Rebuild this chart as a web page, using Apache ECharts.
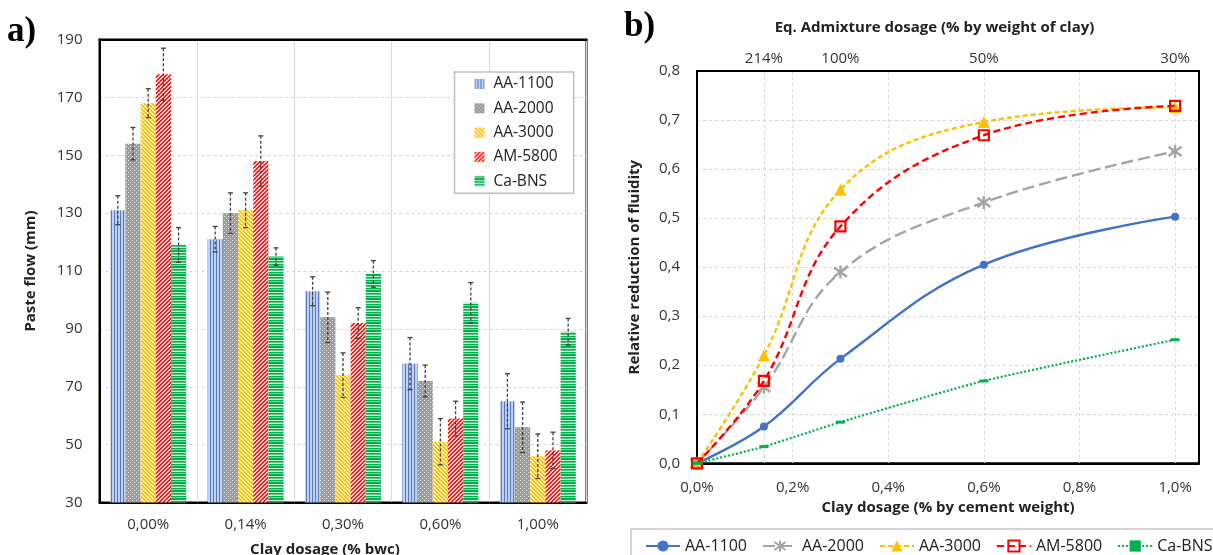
<!DOCTYPE html>
<html><head><meta charset="utf-8">
<script src="https://cdn.jsdelivr.net/npm/echarts@6/dist/echarts.min.js"></script>
<style>html,body{margin:0;padding:0;background:#fff}#c{width:1213px;height:555px}</style>
</head><body><div id="c"></div>
<script>
// ---------- Panel a data ----------
const categories = ['0,00%', '0,14%', '0,30%', '0,60%', '1,00%'];
const seriesNames = ['AA-1100', 'AA-2000', 'AA-3000', 'AM-5800', 'Ca-BNS'];
const flowAA1100 = [131, 121, 103, 78, 65];
const flowAA2000 = [154, 130, 94, 72, 56];
const flowAA3000 = [168, 131, 74, 51, 46];
const flowAM5800 = [178, 148, 92, 59, 48];
const flowCaBNS  = [119, 115, 109, 99, 89];
const errAA1100 = [5, 4.4, 5, 9, 9.5];
const errAA2000 = [5.6, 7, 8.7, 5.5, 8.7];
const errAA3000 = [5, 6, 7.7, 8, 7.7];
const errAM5800 = [9, 8.7, 5.3, 6, 6.3];
const errCaBNS  = [6, 3, 4.6, 7, 4.6];
const flowTicks = [30, 50, 70, 90, 110, 130, 150, 170, 190];
const flowGridTicks = [50, 70, 90, 110, 130, 150, 170];

// ---------- Panel b data ----------
const clayDosage = [0, 0.14, 0.3, 0.6, 1.0];
const redAA1100 = [0, 0.075, 0.213, 0.405, 0.503];
const redAA2000 = [0, 0.155, 0.390, 0.532, 0.636];
const redAA3000 = [0, 0.220, 0.558, 0.696, 0.726];
const redAM5800 = [0, 0.168, 0.483, 0.669, 0.729];
const redCaBNS  = [0, 0.034, 0.084, 0.168, 0.252];
const clayTicks = [0, 0.2, 0.4, 0.6, 0.8, 1.0];
const admixTickValues = [0.14, 0.3, 0.6, 1.0];
const admixTickLabels = ['214%', '100%', '50%', '30%'];
const admixGridValues = [0.14, 0.6, 1.0];

const FONT = '"Open Sans", sans-serif';
const flows = [flowAA1100, flowAA2000, flowAA3000, flowAM5800, flowCaBNS];
const errs = [errAA1100, errAA2000, errAA3000, errAM5800, errCaBNS];
const reds = [redAA1100, redAA2000, redAA3000, redAM5800, redCaBNS];
const CAT_GAP = 0.22;

function pat(w, h, draw) {
  const c = document.createElement('canvas');
  c.width = w; c.height = h;
  const g = c.getContext('2d');
  draw(g, w, h);
  return { image: c, repeat: 'repeat' };
}
const patterns = [
  pat(3, 1, g => { g.fillStyle = '#c2d1ee'; g.fillRect(0, 0, 3, 1); g.fillStyle = '#4f7bc9'; g.fillRect(0, 0, 1, 1); }),
  pat(4, 4, g => { g.fillStyle = '#9c9c9c'; g.fillRect(0, 0, 4, 4); g.fillStyle = '#e2e2e2'; g.fillRect(0, 0, 1, 1); g.fillRect(2, 2, 1, 1); }),
  pat(4, 4, g => { for (let x = 0; x < 4; x++) for (let y = 0; y < 4; y++) { g.fillStyle = (((x - y) % 4 + 4) % 4) < 2 ? '#ffc000' : '#fff0c0'; g.fillRect(x, y, 1, 1); } }),
  pat(4, 4, g => { for (let x = 0; x < 4; x++) for (let y = 0; y < 4; y++) { g.fillStyle = ((x + y) % 4) < 2 ? '#ff1a1a' : '#ffd6d6'; g.fillRect(x, y, 1, 1); } }),
  pat(1, 8, g => { const rows = ['#00b050', '#7fd3a3', '#00b050', '#00b050', '#c6ecd5', '#00b050', '#5cc68a', '#c6ecd5']; rows.forEach((c, i) => { g.fillStyle = c; g.fillRect(0, i, 1, 1); }); })
];

const lineColors = ['#4472c4', '#a5a5a5', '#ffc000', '#ff0000', '#00b050'];
const lineTypes = ['solid', [12, 5], [5, 3], [7, 4], [2, 2]];
const symbols = ['circle', 'path://M-5,-5L5,5M-5,5L5,-5M0,-7L0,7', 'triangle', 'rect', 'rect'];
const symbolSizes = [8, 13, 12, 10, [9, 3]];

const series = [];
seriesNames.forEach((n, k) => {
  series.push({
    type: 'bar', name: n, xAxisIndex: 0, yAxisIndex: 0,
    data: flows[k], barGap: '0%', barCategoryGap: (CAT_GAP * 100) + '%',
    itemStyle: { color: patterns[k] }, silent: true
  });
});
const errData = [];
flows.forEach((arr, k) => arr.forEach((v, j) => errData.push([j, v - errs[k][j], v + errs[k][j], k])));
series.push({
  type: 'custom', xAxisIndex: 0, yAxisIndex: 0, silent: true, z: 5,
  data: errData, encode: { x: 0, y: [1, 2] },
  renderItem(params, api) {
    const j = api.value(0), lo = api.value(1), hi = api.value(2), k = api.value(3);
    const band = api.size([1, 0])[0];
    const area = band * (1 - CAT_GAP), bw = area / 5;
    const top = api.coord([j, hi]), bot = api.coord([j, lo]);
    const x = top[0] - area / 2 + (k + 0.5) * bw;
    const solid = { stroke: '#404040', lineWidth: 1.3 };
    return { type: 'group', children: [
      { type: 'line', shape: { x1: x, y1: top[1], x2: x, y2: bot[1] }, style: { stroke: '#404040', lineWidth: 1.3, lineDash: [3, 2] } },
      { type: 'line', shape: { x1: x - 2.5, y1: top[1], x2: x + 2.5, y2: top[1] }, style: solid },
      { type: 'line', shape: { x1: x - 2.5, y1: bot[1], x2: x + 2.5, y2: bot[1] }, style: solid }
    ] };
  }
});
seriesNames.forEach((n, k) => {
  const isSq = k === 3, isAst = k === 1;
  series.push({
    type: 'line', name: n + ' (b)', xAxisIndex: 2, yAxisIndex: 1,
    data: clayDosage.map((x, i) => [x, reds[k][i]]),
    smooth: k === 4 ? 0.2 : 0.4, symbol: symbols[k], symbolSize: symbolSizes[k], showAllSymbol: true,
    lineStyle: { color: lineColors[k], width: k === 4 ? 2.2 : 2.4, type: lineTypes[k] },
    itemStyle: isSq ? { color: 'rgba(255,255,255,0)', borderColor: '#ff0000', borderWidth: 2.2 }
      : isAst ? { color: '#a5a5a5', borderColor: '#a5a5a5', borderWidth: 2.4 }
      : { color: lineColors[k] },
    silent: true, z: 3 + k
  });
});

const axisLbl = { fontFamily: FONT, fontSize: 15, color: '#333' };
const nameStyle = { fontFamily: FONT, fontSize: 15, fontWeight: 'bold', color: '#222' };
const dashed = { show: true, lineStyle: { color: '#d6d6d6', type: [3, 3], width: 1 } };
const fmt1 = v => v.toFixed(1).replace('.', ',');
const blackLine = { show: true, lineStyle: { color: '#000', width: 2 } };

const option = {
  animation: false,
  backgroundColor: '#fff',
  graphic: [
    { type: 'text', left: 7, top: 14, style: { text: 'a)', font: 'bold 35px "Liberation Serif"', fill: '#000' } },
    { type: 'text', left: 624, top: 9, style: { text: 'b)', font: 'bold 35px "Liberation Serif"', fill: '#000' } }
  ],
  grid: [
    { left: 99.5, top: 39.5, width: 487, height: 463, outerBoundsMode: 'none', containLabel: false,
      show: true, borderColor: '#000', borderWidth: 2, backgroundColor: 'transparent' },
    { left: 697, top: 71, width: 502, height: 392.3, outerBoundsMode: 'none', containLabel: false,
      show: true, borderColor: '#000', borderWidth: 2, backgroundColor: 'transparent' }
  ],
  legend: [
    {
      data: seriesNames, orient: 'vertical', left: 454.5, top: 72, selectedMode: false,
      icon: 'rect', itemWidth: 10, itemHeight: 10, itemGap: 8.3,
      padding: [4, 16, 4, 20], borderColor: '#bfbfbf', borderWidth: 1.5, backgroundColor: '#fff',
      textStyle: { fontFamily: FONT, fontSize: 15.5, color: '#222', lineHeight: 16, padding: [0, 0, 0, 4] }
    },
    {
      data: seriesNames.map(n => n + ' (b)'), orient: 'horizontal', left: 631, top: 529, selectedMode: false,
      itemWidth: 34, itemHeight: 14, itemGap: 15, width: 620,
      padding: [9, 14, 9, 14], borderColor: '#c8c8c8', borderWidth: 1.5,
      formatter: n => n.replace(' (b)', ''),
      textStyle: { fontFamily: FONT, fontSize: 16, color: '#222' }
    }
  ],
  xAxis: [
    {
      gridIndex: 0, type: 'category', data: categories,
      axisLine: blackLine, axisTick: { show: false },
      axisLabel: Object.assign({ margin: 15 }, axisLbl),
      splitLine: { show: true, lineStyle: { color: '#d9d9d9', width: 1 } },
      name: 'Clay dosage (% bwc)', nameLocation: 'middle', nameGap: 40,
      nameTextStyle: Object.assign({ padding: [0, 36, 0, 0] }, nameStyle)
    },
    {
      gridIndex: 0, type: 'category', data: categories, position: 'top',
      axisLine: blackLine, axisTick: { show: false }, axisLabel: { show: false }, splitLine: { show: false }
    },
    {
      gridIndex: 1, type: 'value', min: 0, max: 1.05,
      axisLine: blackLine,
      axisTick: { show: false, customValues: clayTicks },
      axisLabel: Object.assign({ margin: 17, customValues: clayTicks, formatter: v => fmt1(v) + '%' }, axisLbl),
      splitLine: dashed,
      name: 'Clay dosage (% by cement weight)', nameLocation: 'middle', nameGap: 37, nameTextStyle: nameStyle
    },
    {
      gridIndex: 1, type: 'value', position: 'top', min: 0, max: 1.05,
      axisLine: blackLine,
      axisTick: { show: false, customValues: admixGridValues },
      axisLabel: Object.assign({ margin: 5, customValues: admixTickValues,
        formatter: v => admixTickLabels[admixTickValues.findIndex(t => Math.abs(t - v) < 1e-6)] }, axisLbl),
      splitLine: dashed,
      name: 'Eq. Admixture dosage (% by weight of clay)', nameLocation: 'middle', nameGap: 36,
      nameTextStyle: Object.assign({ padding: [0, 27, 0, 0] }, nameStyle)
    }
  ],
  yAxis: [
    {
      gridIndex: 0, type: 'value', min: 30, max: 190,
      axisLine: blackLine,
      axisTick: { show: false, customValues: flowGridTicks },
      axisLabel: Object.assign({ margin: 17, customValues: flowTicks }, axisLbl),
      splitLine: dashed,
      name: 'Paste flow (mm)', nameLocation: 'middle', nameGap: 61, nameTextStyle: nameStyle
    },
    {
      gridIndex: 1, type: 'value', min: 0, max: 0.8, interval: 0.1,
      axisLine: blackLine, axisTick: { show: false },
      axisLabel: Object.assign({ margin: 17, formatter: v => fmt1(v) }, axisLbl),
      splitLine: dashed,
      name: 'Relative reduction of fluidity', nameLocation: 'middle', nameGap: 55, nameTextStyle: nameStyle
    }
  ],
  series
};
const chart = echarts.init(document.getElementById('c'), null, { renderer: 'canvas' });
chart.setOption(option);
</script></body></html>
